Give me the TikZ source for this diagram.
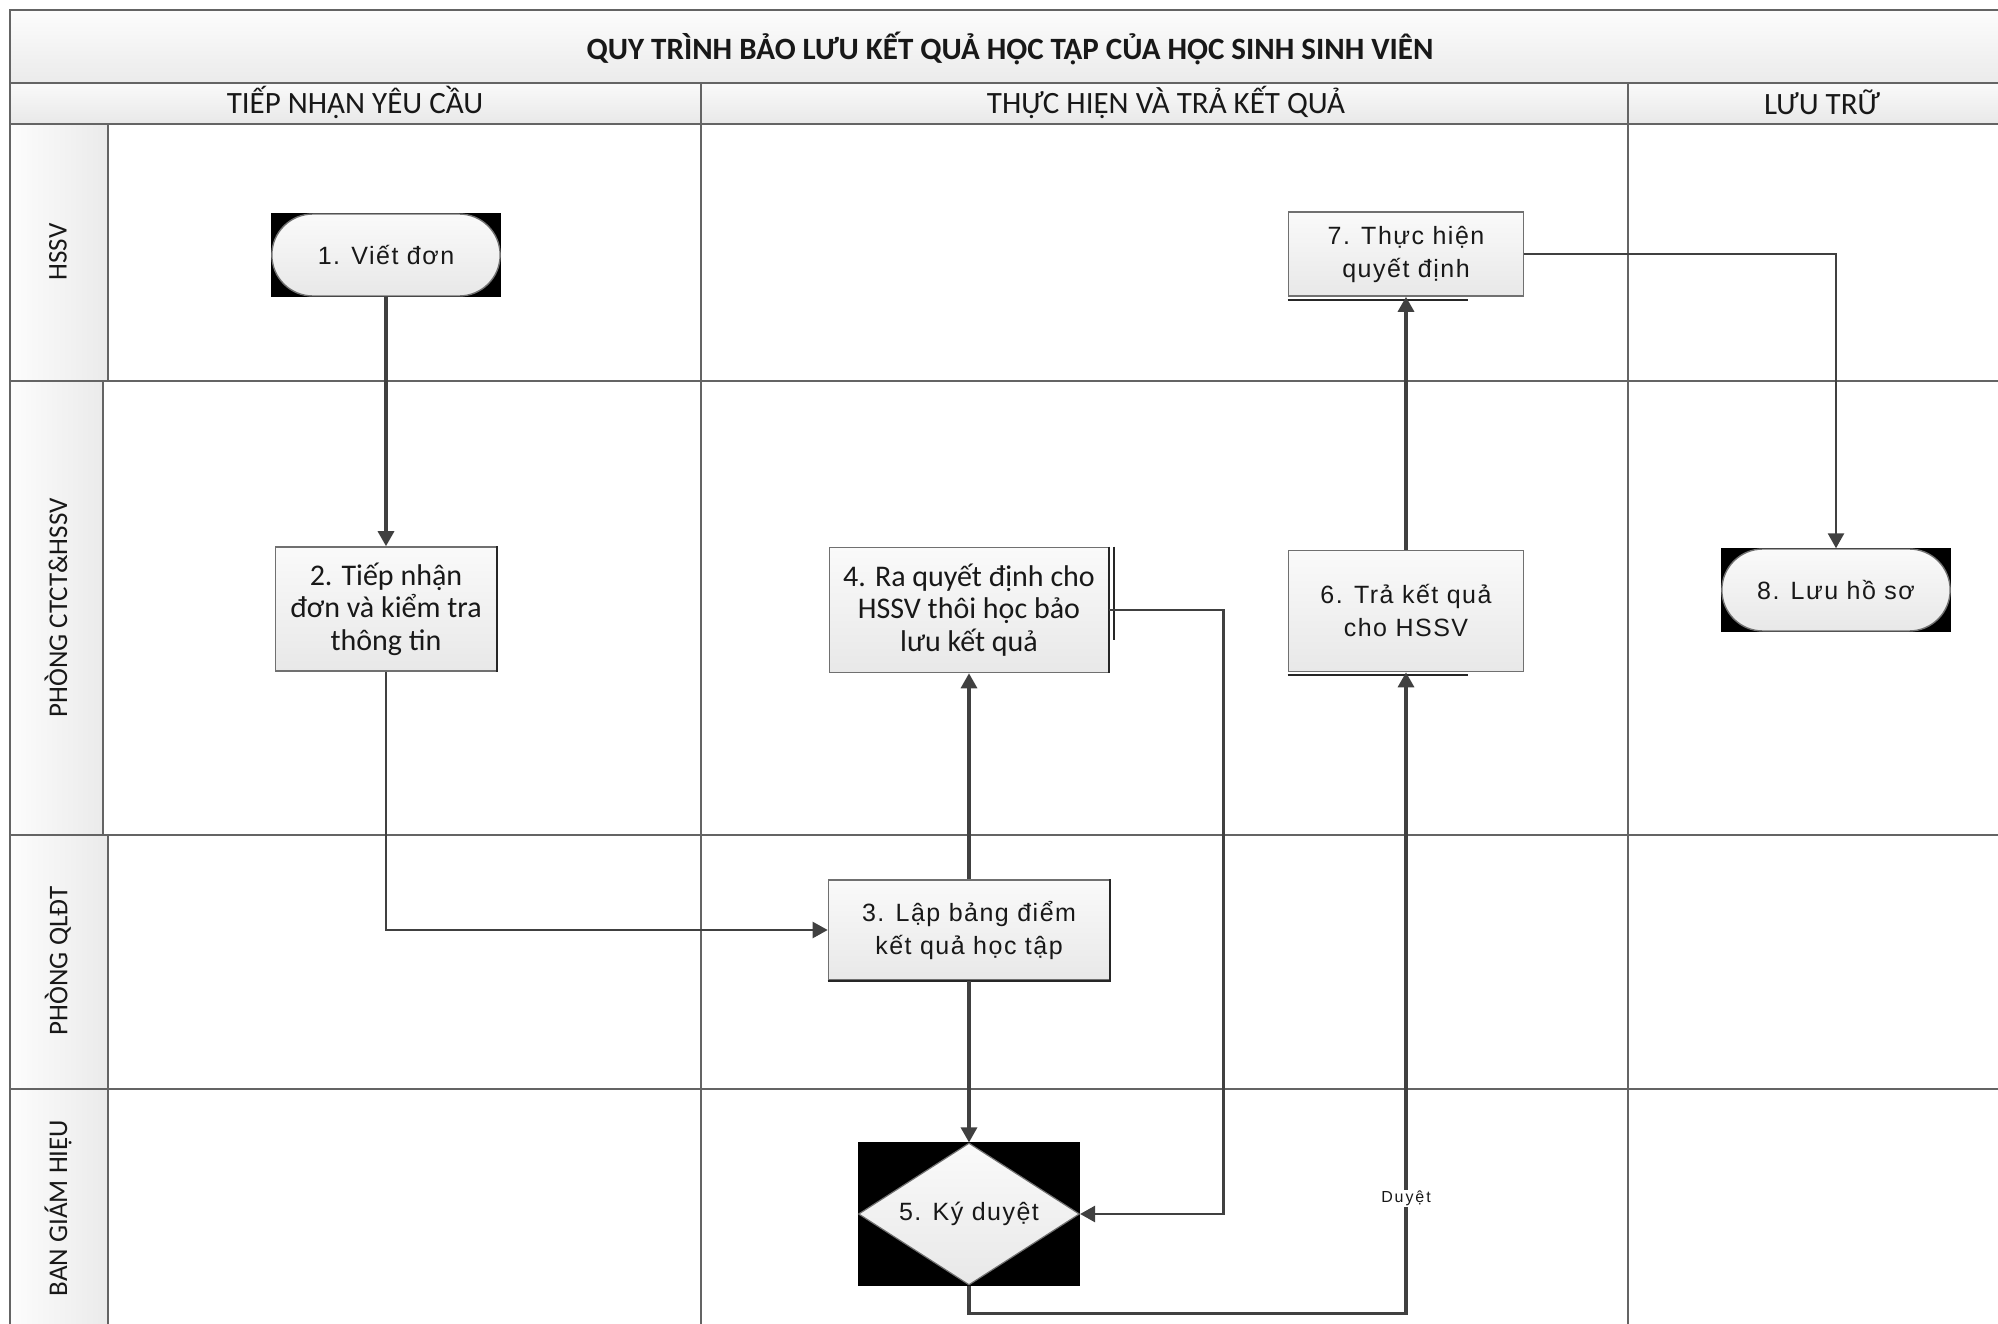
\documentclass[tikz,border=0pt]{standalone}
\usepackage{fontspec}
\usetikzlibrary{arrows.meta,shapes.geometric,shapes.misc,backgrounds}
\setmainfont{Carlito}
\newfontfamily\boxfont[LetterSpace=6]{Liberation Sans}
\newfontfamily\labelfont[LetterSpace=12]{Liberation Sans}
\definecolor{rule}{RGB}{100,100,100}
\definecolor{edgegray}{RGB}{112,112,112}
\definecolor{flowline}{RGB}{64,64,64}
\definecolor{ink}{RGB}{24,24,24}

\begin{document}
\begin{tikzpicture}[x=1pt,y=-1pt,
  lane/.style={draw=rule,line width=2pt},
  colhead/.style={text=ink,font=\fontsize{31}{31}\selectfont},
  lanehead/.style={text=ink,rotate=90,font=\fontsize{27}{27}\selectfont},
  tfont/.style={font=\boxfont\fontsize{25}{33}\selectfont},
  cfont/.style={font=\fontsize{30}{32.5}\selectfont},
  stepbox/.style={rectangle,draw=edgegray,line width=1.6pt,top color=white!98!black,
    bottom color=white!91!black,text=ink,align=center,inner sep=2pt},
  endbox/.style={rounded rectangle,draw=edgegray,line width=1.4pt,top color=white!98!black,
    bottom color=white!91!black,text=ink,tfont,minimum width=235pt,minimum height=82pt},
  decision/.style={diamond,aspect=1.55,draw=edgegray,line width=1.2pt,top color=white!98!black,
    bottom color=white!91!black,text=ink,tfont,inner sep=0pt,minimum width=221pt,minimum height=142pt},
  darkedge/.style={draw=black!85,line width=2pt},
  flow/.style={draw=flowline,line width=3.2pt,-{Triangle[length=15pt,width=16pt]}},
  duyet/.style={fill=white,text=ink,inner sep=1pt,font=\labelfont\fontsize{16}{16}\selectfont}]
\useasboundingbox (0,0) rectangle (1998,1324);
\clip (0,0) rectangle (1998,1324);
% title and column bands
\shade[top color=white!99!black,bottom color=white!92!black] (10,10) rectangle (2010,83);
\shade[top color=white!98!black,bottom color=white!91!black] (10,83) rectangle (2010,124);
% lane headers
\foreach \ya/\yb/\xr in {124/381/108,381/835/103,835/1089/108,1089/1330/108}
  {\shade[left color=white!99!black,right color=white!92!black] (10,\ya) rectangle (\xr,\yb);
   \draw[lane] (\xr,\ya) -- (\xr,\yb);}
% grid
\draw[lane] (10,10) rectangle (2010,1330);
\draw[lane] (10,83) -- (2010,83);
\draw[lane] (10,124) -- (2010,124);
\foreach \y in {381,835,1089} \draw[lane] (10,\y) -- (2010,\y);
\foreach \x in {701,1628} \draw[lane] (\x,83) -- (\x,1330);
% labels
\node[text=ink,font=\bfseries\fontsize{31}{31}\selectfont] (title) at (1010,48)
  {QUY TRÌNH BẢO LƯU KẾT QUẢ HỌC TẬP CỦA HỌC SINH SINH VIÊN};
\node[colhead] (c1) at (355,102) {TIẾP NHẬN YÊU CẦU};
\node[colhead] (c2) at (1166,102) {THỰC HIỆN VÀ TRẢ KẾT QUẢ};
\node[colhead] (c3) at (1822,102) {LƯU TRỮ};
\node[lanehead] (l1) at (58,252) {HSSV};
\node[lanehead] (l2) at (56,608) {PHÒNG CTCT\&HSSV};
\node[lanehead] (l3) at (58,961) {PHÒNG QLĐT};
\node[lanehead] (l4) at (58,1208) {BAN GIÁM HIỆU};
% steps
\node[endbox] (n1) at (386,255) {1. Viết đơn};
\node[stepbox,cfont,minimum width=221pt,minimum height=124pt] (n2) at (386,609)
  {2. Tiếp nhận\\đơn và kiểm tra\\thông tin};
\node[stepbox,tfont,minimum width=281pt,minimum height=100pt] (n3) at (969,930)
  {3. Lập bảng điểm\\kết quả học tập};
\node[stepbox,cfont,minimum width=279pt,minimum height=125pt] (n4) at (969,610)
  {4. Ra quyết định cho\\HSSV thôi học bảo\\lưu kết quả};
\node[decision] (n5) at (969,1214) {5. Ký duyệt};
\node[stepbox,tfont,minimum width=235pt,minimum height=121pt] (n6) at (1406,611)
  {6. Trả kết quả\\cho HSSV};
\node[stepbox,tfont,minimum width=235pt,minimum height=84pt] (n7) at (1406,254)
  {7. Thực hiện\\quyết định};
\node[endbox] (n8) at (1836,590) {8. Lưu hồ sơ};
% black backing
\begin{scope}[on background layer]
  \fill[black] (n1.west |- n1.north) rectangle (n1.east |- n1.south);
  \fill[black] (n8.west |- n8.north) rectangle (n8.east |- n8.south);
  \fill[black] (n5.west |- n5.north) rectangle (n5.east |- n5.south);
\end{scope}
% shadow edges
\draw[darkedge] (n2.north east) -- (n2.south east);
\draw[darkedge] (n3.south west) -- (n3.south east) -- (n3.north east);
\draw[darkedge] (n4.north east) -- (n4.south east);
\draw[darkedge] ([xshift=5pt]n4.north east) -- ([xshift=5pt,yshift=-30pt]n4.east);
\draw[darkedge] ([yshift=-3pt]n6.south west) -- ([xshift=-56pt,yshift=-3pt]n6.south east);
\draw[darkedge] ([yshift=-3pt]n7.south west) -- ([xshift=-56pt,yshift=-3pt]n7.south east);
% flow
\draw[flow] (n1.south) -- (n2.north);
\draw[flow,line width=2.2pt] (n2.south) |- (n3.west);
\draw[flow] (n3.north) -- (n4.south);
\draw[flow] (n3.south) -- (n5.north);
\draw[flow,line width=2.8pt] (n4.east) -- ++(114,0) |- (n5.east);
\draw[flow] (n5.south) -- ++(0,28) -| node[pos=0.59,duyet] (lb) {Duyệt} (n6.south);
\draw[flow] (n6.north) -- (n7.south);
\draw[flow,line width=2.6pt] (n7.east) -| (n8.north);
\end{tikzpicture}
\end{document}
